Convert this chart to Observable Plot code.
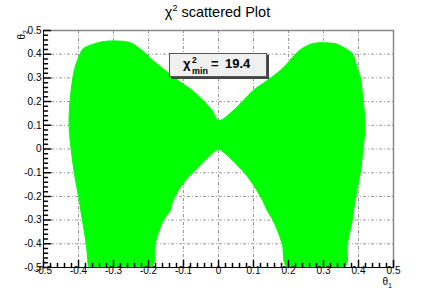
<!DOCTYPE html>
<html><head><meta charset="utf-8">
<script src="https://cdn.jsdelivr.net/npm/d3@7"></script>
<script src="https://cdn.jsdelivr.net/npm/@observablehq/plot@0.6"></script>
<style>
body{margin:0;background:#fff;font-family:"Liberation Sans",Arial,Helvetica,sans-serif}
#chart svg{display:block}
</style>
</head><body><div id="chart"></div>
<script>
// Outline of the scattered χ² region (θ1, θ2)
const shapeX = [-0.372,-0.378,-0.389,-0.398,-0.412,-0.421,-0.427,-0.424,-0.416,-0.41,-0.395,-0.386,-0.36,-0.335,-0.3,-0.255,-0.229,-0.209,-0.187,-0.152,-0.115,-0.075,-0.044,-0.018,0,0.042,0.071,0.099,0.139,0.176,0.199,0.216,0.239,0.27,0.305,0.339,0.362,0.382,0.396,0.405,0.413,0.419,0.413,0.405,0.39,0.382,0.368,0.36,0.197,0.182,0.156,0.139,0.126,0.091,0.068,0.019,0,-0.018,-0.067,-0.095,-0.13,-0.138,-0.158,-0.181,-0.192,-0.372];
const shapeY = [-0.5,-0.4,-0.3,-0.217,-0.1,0.0,0.1,0.205,0.3,0.344,0.403,0.424,0.441,0.452,0.456,0.45,0.428,0.403,0.373,0.331,0.289,0.247,0.205,0.162,0.12,0.162,0.205,0.247,0.289,0.331,0.365,0.395,0.424,0.445,0.448,0.442,0.424,0.403,0.344,0.302,0.205,0.099,0.0,-0.1,-0.217,-0.302,-0.4,-0.5,-0.5,-0.4,-0.302,-0.259,-0.217,-0.133,-0.091,-0.019,-0.002,-0.019,-0.091,-0.133,-0.217,-0.259,-0.302,-0.4,-0.5,-0.5];
const majorTicks = [-0.5,-0.4,-0.3,-0.2,-0.1,0,0.1,0.2,0.3,0.4,0.5];
const minorTicks = d3.range(-50, 51, 2).filter(v => v % 10 !== 0).map(v => v / 100);
const titleText = "χ";
const chiMin = "19.4";

const shape = shapeX.map((x, i) => ({x, y: shapeY[i]}));
const fmt = d => d === 0 ? "0" : d.toFixed(1);
const tickShape = {draw(ctx, l) { ctx.moveTo(0, 0); ctx.lineTo(0, -l); }};
const inner = majorTicks.slice(1, -1);

const plot = Plot.plot({
  width: 436, height: 297,
  marginLeft: 43, marginRight: 43, marginTop: 30, marginBottom: 30,
  x: {domain: [-0.5, 0.5], axis: null},
  y: {domain: [-0.5, 0.5], axis: null},
  style: {fontFamily: "Liberation Sans, Arial, sans-serif", fontSize: "10px", background: "white", color: "black"},
  marks: [
    Plot.ruleX(inner, {x: d => d, stroke: "#999", strokeDasharray: "3,2,1,2"}),
    Plot.ruleY(inner, {y: d => d, stroke: "#999", strokeDasharray: "3,2,1,2"}),
    Plot.line(shape, {x: "x", y: "y", fill: "#00ff00", stroke: "#00ff00", strokeWidth: 1, curve: "catmull-rom", clip: true}),
    Plot.ruleY([0.5], {y: d => d, stroke: "#888", strokeWidth: 1.5}),
    Plot.ruleX([0.5], {x: d => d, stroke: "#888", strokeWidth: 1.5}),
    Plot.ruleY([-0.5], {y: d => d, stroke: "black"}),
    Plot.ruleX([-0.5], {x: d => d, stroke: "black"}),
    Plot.vector(majorTicks, {x: d => d, frameAnchor: "bottom", length: 7, anchor: "start", shape: tickShape, stroke: "black"}),
    Plot.vector(minorTicks, {x: d => d, frameAnchor: "bottom", length: 4, anchor: "start", shape: tickShape, stroke: "black"}),
    Plot.vector(majorTicks, {y: d => d, frameAnchor: "left", length: 7, rotate: 90, anchor: "start", shape: tickShape, stroke: "black"}),
    Plot.vector(minorTicks, {y: d => d, frameAnchor: "left", length: 4, rotate: 90, anchor: "start", shape: tickShape, stroke: "black"}),
    Plot.text(majorTicks, {x: d => d, frameAnchor: "bottom", dy: 6, text: fmt, fill: "black"}),
    Plot.text(majorTicks, {y: d => d, frameAnchor: "left", dx: -2, textAnchor: "end", text: fmt, fill: "black"})
  ]
});
document.getElementById("chart").appendChild(plot);

const svg = d3.select(plot);
const ff = "Liberation Sans, Arial, sans-serif";
// title
const t = svg.append("text").attr("x", 217.5).attr("y", 17).attr("text-anchor", "middle")
  .attr("font-family", ff).attr("font-size", 14.5).attr("fill", "black");
t.append("tspan").text(titleText);
t.append("tspan").attr("font-size", 9).attr("dy", -6).text("2");
t.append("tspan").attr("dy", 6).text(" scattered Plot");
// legend
const g = svg.append("g").attr("text-anchor", "start").attr("font-family", ff).attr("font-weight", "bold").attr("fill", "black");
g.append("rect").attr("x", 171).attr("y", 55).attr("width", 98).attr("height", 24).attr("fill", "#444");
g.append("rect").attr("x", 169.5).attr("y", 53.5).attr("width", 97).attr("height", 23).attr("fill", "#f0f0f0").attr("stroke", "#555");
g.append("text").attr("x", 183).attr("y", 68).attr("font-size", 13).text("χ");
g.append("text").attr("x", 192).attr("y", 63).attr("font-size", 8.5).text("2");
g.append("text").attr("x", 192).attr("y", 73.5).attr("font-size", 9).text("min");
g.append("text").attr("x", 211).attr("y", 67.5).attr("font-size", 13).text("=");
g.append("text").attr("x", 225).attr("y", 67.5).attr("font-size", 13).text(chiMin);
// axis titles
const xt = svg.append("text").attr("x", 392).attr("y", 285).attr("text-anchor", "end").attr("font-family", ff).attr("font-size", 10);
xt.append("tspan").text("θ");
xt.append("tspan").attr("font-size", 7).attr("dy", 3).text("1");
const yt = svg.append("text").attr("transform", "translate(25,30) rotate(-90)").attr("text-anchor", "end").attr("font-family", ff).attr("font-size", 10);
yt.append("tspan").text("θ");
yt.append("tspan").attr("font-size", 7).attr("dy", 3).text("2");
</script>
</body></html>
